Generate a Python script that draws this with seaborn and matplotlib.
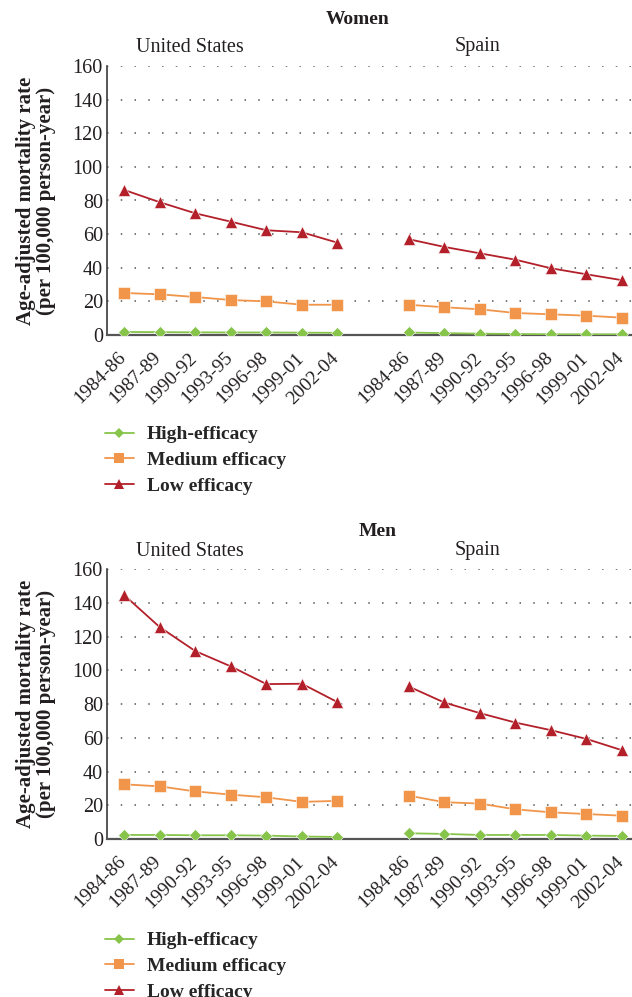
import numpy as np
import pandas as pd
import matplotlib
matplotlib.use("Agg")
import matplotlib.pyplot as plt
import matplotlib.transforms as mtransforms
from matplotlib.lines import Line2D
import seaborn as sns

# ── Data ─────────────────────────────────────────────────────────────────────
PERIODS = ["1984-86", "1987-89", "1990-92", "1993-95", "1996-98", "1999-01", "2002-04"]
COUNTRIES = ["United States", "Spain"]
LEVELS = ["High-efficacy", "Medium efficacy", "Low efficacy"]

women_us_high = [1.8, 1.7, 1.6, 1.5, 1.5, 1.4, 1.3]
women_us_medium = [25.0, 24.2, 22.6, 20.8, 20.0, 18.0, 18.0]
women_us_low = [86.3, 79.0, 72.4, 67.4, 62.3, 61.1, 54.9]

women_es_high = [1.5, 1.1, 0.8, 0.6, 0.4, 0.4, 0.4]
women_es_medium = [18.0, 16.5, 15.3, 13.1, 12.3, 11.5, 10.3]
women_es_low = [57.0, 52.4, 48.6, 44.8, 39.7, 36.1, 32.6]

men_us_high = [2.4, 2.4, 2.2, 2.2, 2.0, 1.5, 1.2]
men_us_medium = [32.4, 31.2, 28.2, 26.3, 24.7, 22.0, 22.6]
men_us_low = [144.6, 125.6, 111.4, 102.3, 91.8, 92.0, 81.1]

men_es_high = [3.4, 3.0, 2.4, 2.4, 2.4, 2.0, 1.8]
men_es_medium = [25.7, 21.8, 21.0, 17.6, 15.8, 14.8, 13.8]
men_es_low = [90.4, 80.9, 74.6, 69.0, 64.5, 59.3, 52.6]

Y_TICKS = [0, 20, 40, 60, 80, 100, 120, 140, 160]

PANELS = {
    "Women": {
        "United States": [women_us_high, women_us_medium, women_us_low],
        "Spain": [women_es_high, women_es_medium, women_es_low],
    },
    "Men": {
        "United States": [men_us_high, men_us_medium, men_us_low],
        "Spain": [men_es_high, men_es_medium, men_es_low],
    },
}

# ── Style ────────────────────────────────────────────────────────────────────
sns.set_style("white")
plt.rcParams["font.family"] = ["Liberation Serif", "DejaVu Serif"]

COLORS = {"High-efficacy": "#86c44a", "Medium efficacy": "#f0954a", "Low efficacy": "#b3202a"}
MARKERS = {"High-efficacy": "D", "Medium efficacy": "s", "Low efficacy": "^"}
MSIZE = {"High-efficacy": 6, "Medium efficacy": 8, "Low efficacy": 8.5}
TXT = "#231f20"
W, H = 632, 997


def build_frame(panel):
    rows = []
    for c_i, country in enumerate(COUNTRIES):
        for level, values in zip(LEVELS, panel[country]):
            for p_i, (period, v) in enumerate(zip(PERIODS, values)):
                rows.append({
                    "pos": c_i * (len(PERIODS) + 1) + p_i,
                    "period": period,
                    "country": country,
                    "efficacy": level,
                    "rate": v,
                })
    return pd.DataFrame(rows)


def draw_panel(fig, rect, title, panel, title_px, legend_top_px):
    ax = fig.add_axes(rect)
    df = build_frame(panel)
    for level in LEVELS:
        for country in COUNTRIES:
            sub = df[(df["efficacy"] == level) & (df["country"] == country)]
            sns.lineplot(
                data=sub, x="pos", y="rate", ax=ax,
                color=COLORS[level], marker=MARKERS[level], markersize=MSIZE[level],
                markeredgecolor="white", markeredgewidth=0.4,
                linewidth=1.3, legend=False, zorder=3,
            )

    ax.set_ylim(0, 160)
    ax.set_xlim(-0.48, 14.28)
    ax.tick_params(axis="both", length=0, pad=3)
    ax.set_yticks(Y_TICKS)
    ax.set_yticklabels([str(t) for t in Y_TICKS], fontsize=14.5, color=TXT)
    xpos = list(range(7)) + list(range(8, 15))
    ax.set_xticks(xpos)
    ax.set_xticklabels(PERIODS * 2, rotation=45, ha="right", rotation_mode="anchor",
                       fontsize=14, color=TXT)
    # nudge the rotated labels down-left, like the original layout
    shift = mtransforms.ScaledTranslation(-7 / 100, -10 / 100, fig.dpi_scale_trans)
    for lab in ax.get_xticklabels():
        lab.set_transform(lab.get_transform() + shift)
    ax.set_xlabel("")
    ax.set_ylabel("Age-adjusted mortality rate\n(per 100,000 person-year)",
                  fontsize=15, fontweight="bold", color=TXT, labelpad=12, linespacing=1.0)

    for y in Y_TICKS[1:]:
        ax.axhline(y, color="#555555", linewidth=1.1, linestyle=(0, (1, 8)), zorder=1)

    sns.despine(ax=ax, top=True, right=True)
    ax.spines["left"].set_color("#3a3a3a")
    ax.spines["bottom"].set_color("#555555")
    ax.spines["left"].set_linewidth(1.2)
    ax.spines["bottom"].set_linewidth(1.6)

    # panel titles
    t_y, c_y, t_x = title_px
    fig.text(t_x / W, 1 - t_y / H, title, ha="center", va="center",
             fontsize=14, fontweight="bold", color=TXT)
    fig.text(190 / W, 1 - c_y / H, "United States", ha="center", va="center",
             fontsize=14.5, color=TXT)
    fig.text(478 / W, 1 - c_y / H, "Spain", ha="center", va="center",
             fontsize=14.5, color=TXT)

    handles = [
        Line2D([0], [0], color=COLORS[l], marker=MARKERS[l], markersize=MSIZE[l] - 1,
               markeredgewidth=0, linewidth=1.3)
        for l in LEVELS
    ]
    fig.legend(handles, LEVELS, loc="upper left",
               bbox_to_anchor=(97 / W, 1 - legend_top_px / H), borderaxespad=0,
               frameon=False, handlelength=1.5, handletextpad=0.65, labelspacing=0.42,
               prop={"family": ["Liberation Serif"], "weight": "bold", "size": 14})
    return ax


fig = plt.figure(figsize=(6.32, 9.97), dpi=100)

def rect(left, right, top, bottom):
    return [left / W, 1 - bottom / H, (right - left) / W, (bottom - top) / H]

draw_panel(fig, rect(107, 632, 66, 335), "Women", PANELS["Women"], (20, 47, 358), 418)
draw_panel(fig, rect(107, 632, 569, 839), "Men", PANELS["Men"], (531, 551, 378), 924)

fig.savefig("out.png", dpi=100)
